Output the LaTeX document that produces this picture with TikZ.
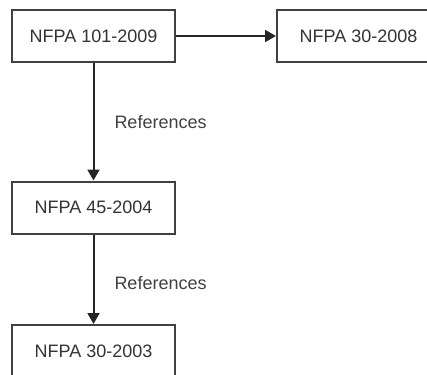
\documentclass[tikz,border=0pt]{standalone}
\usepackage{fontspec}
\setmainfont{Liberation Sans}
\usetikzlibrary{arrows.meta}

\tikzset{
    stdbox/.style = {draw = black!75, line width = 2pt, fill = white,
        minimum width = 163pt, minimum height = 52pt, inner sep = 0pt,
        text = black!80, font = \fontsize{18}{21}\selectfont},
    refline/.style = {draw = black!85, line width = 2pt,
        -{Triangle[length = 11pt, width = 12pt]}},
    reflabel/.style = {right, inner sep = 0pt, xshift = 20pt,
        text = black!75, font = \fontsize{18}{21}\selectfont}
}

\begin{document}
\begin{tikzpicture}[x = 1pt, y = -1pt]
        \useasboundingbox (0, 0) rectangle (427, 374);
        \clip (0, 0) rectangle (427, 374);
        \draw (93.5, 36) node [stdbox] (nfpa101) {NFPA 101-2009};
        \draw (358.5, 36) node [stdbox] (nfpa30a) {NFPA 30-2008};
        \draw (93.5, 207.5) node [stdbox] (nfpa45) {NFPA 45-2004};
        \draw (93.5, 351) node [stdbox] (nfpa30b) {NFPA 30-2003};
        \draw [refline] (nfpa101) -- (nfpa30a);
        \draw [refline] (nfpa101) -- (nfpa45) node [midway, reflabel] {References};
        \draw [refline] (nfpa45) -- (nfpa30b) node [midway, reflabel, yshift = -4pt] {References};
    \end{tikzpicture}
\end{document}
